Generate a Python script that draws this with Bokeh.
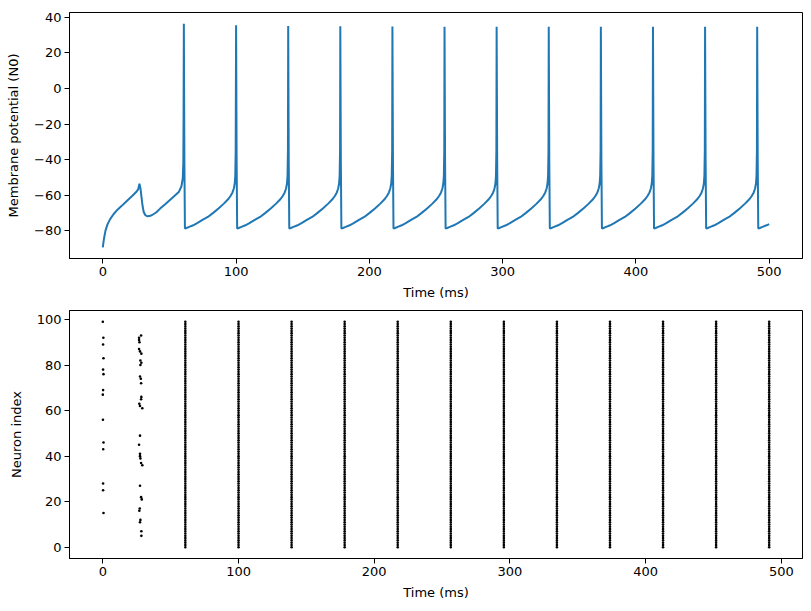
from bokeh.plotting import figure
from bokeh.layouts import column
from bokeh.models import Range1d, FixedTicker
from bokeh.embed import file_html
from bokeh.resources import INLINE

# ---------------- data ----------------
# membrane potential of neuron 0 (time in ms, voltage in mV)
v_time = [
    0, 0.5, 1, 2, 3.5, 5.5, 8, 11, 14, 18, 22, 25, 26.5, 27.5, 28.3, 29, 29.8, 30.7, 31.8, 33.2,
    35, 37, 40, 43, 47, 51, 54.5, 57, 59, 60, 60.4, 60.6,
    60.8, 61.2, 61.6, 62.8, 64.8, 67.8, 70.8, 74.8, 78.8, 82.8, 86.8, 90.8, 93.8, 95.8, 97.3, 98.3, 99.0, 99.4, 99.7,
    100.0, 100.4, 100.8, 102.0, 104.0, 107.0, 110.0, 114.0, 118.0, 122.0, 126.0, 130.0, 133.0, 135.0, 136.5, 137.5, 138.2, 138.6, 138.9,
    139.1, 139.5, 139.9, 141.1, 143.1, 146.1, 149.1, 153.1, 157.1, 161.1, 165.1, 169.1, 172.1, 174.1, 175.6, 176.6, 177.3, 177.7, 178.0,
    178.2, 178.6, 179.0, 180.2, 182.2, 185.2, 188.2, 192.2, 196.2, 200.2, 204.2, 208.2, 211.2, 213.2, 214.7, 215.7, 216.4, 216.8, 217.1,
    217.3, 217.7, 218.1, 219.3, 221.3, 224.3, 227.3, 231.3, 235.3, 239.3, 243.3, 247.3, 250.3, 252.3, 253.8, 254.8, 255.5, 255.9, 256.2,
    256.4, 256.8, 257.2, 258.4, 260.4, 263.4, 266.4, 270.4, 274.4, 278.4, 282.4, 286.4, 289.4, 291.4, 292.9, 293.9, 294.6, 295.0, 295.3,
    295.5, 295.9, 296.3, 297.5, 299.5, 302.5, 305.5, 309.5, 313.5, 317.5, 321.5, 325.5, 328.5, 330.5, 332.0, 333.0, 333.7, 334.1, 334.4,
    334.6, 335.0, 335.4, 336.6, 338.6, 341.6, 344.6, 348.6, 352.6, 356.6, 360.6, 364.6, 367.6, 369.6, 371.1, 372.1, 372.8, 373.2, 373.5,
    373.7, 374.1, 374.5, 375.7, 377.7, 380.7, 383.7, 387.7, 391.7, 395.7, 399.7, 403.7, 406.7, 408.7, 410.2, 411.2, 411.9, 412.3, 412.6,
    412.8, 413.2, 413.6, 414.8, 416.8, 419.8, 422.8, 426.8, 430.8, 434.8, 438.8, 442.8, 445.8, 447.8, 449.3, 450.3, 451.0, 451.4, 451.7,
    451.9, 452.3, 452.7, 453.9, 455.9, 458.9, 461.9, 465.9, 469.9, 473.9, 477.9, 481.9, 484.9, 486.9, 488.4, 489.4, 490.1, 490.5, 490.8,
    491.0, 491.4, 491.8, 493.0, 495.0, 498.0, 500.0,
]
v_mem = [
    -89.4, -86.5, -84.0, -80.0, -76.5, -73.5, -70.8, -68.2, -66.2, -63.3, -60.5, -58.3, -56.8, -53.6, -56.5, -61.0, -66.0, -69.5, -71.2, -71.9,
    -71.8, -71.2, -69.8, -67.6, -65.0, -62.3, -60.0, -58.3, -55.0, -50.5, -42.0, -15.0,
    36.5, -40, -78.8, -78.5, -77.9, -77.0, -75.8, -74.0, -72.3, -70.0, -67.5, -64.8, -62.5, -60.5, -58.5, -56.3, -53.5, -49.0, -35.0,
    35.6, -40, -78.8, -78.5, -77.9, -77.0, -75.8, -74.0, -72.3, -70.0, -67.5, -64.8, -62.5, -60.5, -58.5, -56.3, -53.5, -49.0, -35.0,
    35.2, -40, -78.8, -78.5, -77.9, -77.0, -75.8, -74.0, -72.3, -70.0, -67.5, -64.8, -62.5, -60.5, -58.5, -56.3, -53.5, -49.0, -35.0,
    35.0, -40, -78.8, -78.5, -77.9, -77.0, -75.8, -74.0, -72.3, -70.0, -67.5, -64.8, -62.5, -60.5, -58.5, -56.3, -53.5, -49.0, -35.0,
    34.9, -40, -78.8, -78.5, -77.9, -77.0, -75.8, -74.0, -72.3, -70.0, -67.5, -64.8, -62.5, -60.5, -58.5, -56.3, -53.5, -49.0, -35.0,
    34.8, -40, -78.8, -78.5, -77.9, -77.0, -75.8, -74.0, -72.3, -70.0, -67.5, -64.8, -62.5, -60.5, -58.5, -56.3, -53.5, -49.0, -35.0,
    34.8, -40, -78.8, -78.5, -77.9, -77.0, -75.8, -74.0, -72.3, -70.0, -67.5, -64.8, -62.5, -60.5, -58.5, -56.3, -53.5, -49.0, -35.0,
    34.8, -40, -78.8, -78.5, -77.9, -77.0, -75.8, -74.0, -72.3, -70.0, -67.5, -64.8, -62.5, -60.5, -58.5, -56.3, -53.5, -49.0, -35.0,
    34.8, -40, -78.8, -78.5, -77.9, -77.0, -75.8, -74.0, -72.3, -70.0, -67.5, -64.8, -62.5, -60.5, -58.5, -56.3, -53.5, -49.0, -35.0,
    34.8, -40, -78.8, -78.5, -77.9, -77.0, -75.8, -74.0, -72.3, -70.0, -67.5, -64.8, -62.5, -60.5, -58.5, -56.3, -53.5, -49.0, -35.0,
    34.8, -40, -78.8, -78.5, -77.9, -77.0, -75.8, -74.0, -72.3, -70.0, -67.5, -64.8, -62.5, -60.5, -58.5, -56.3, -53.5, -49.0, -35.0,
    34.8, -40, -78.8, -78.5, -77.9, -77.0, -76.3,
]

# population spike times (ms) at which all 100 neurons fire together
sync_times = [60.8, 100.0, 139.1, 178.2, 217.3, 256.4, 295.5, 334.6, 373.7, 412.8, 451.9, 491.0]
neuron_ids = list(range(100))

# sparse early spikes
early1_times = [0.0, 0.4, 0.2, 0.5, 0.2, 0.5, 0.2, 0.0, 0.1, 0.5, 0.3, 0.2, 0.2, 0.5]
early1_ids = [99, 92, 89, 83, 78, 76, 69, 67, 56, 46, 43, 28, 25, 15]
early2_times = [28.2, 26.7, 26.7, 27.0, 26.7, 27.4, 28.4, 27.7, 28.4, 27.7, 27.4, 28.0, 28.2,
                28.4, 28.2, 26.9, 27.4, 29.1, 27.4, 26.7, 27.4, 27.4, 27.7, 28.2, 29.1,
                27.4, 28.2, 28.7, 27.2, 26.9, 27.7, 27.4, 28.4, 28.4]
early2_ids = [93, 92, 91, 90, 87, 86, 85, 82, 81, 80, 75, 74, 72,
              66, 65, 63, 62, 61, 49, 45, 41, 40, 39, 37, 36,
              27, 22, 21, 17, 16, 12, 11, 7, 5]

x_ticks = [0, 100, 200, 300, 400, 500]
v_ticks = [-80, -60, -40, -20, 0, 20, 40]
n_ticks = [0, 20, 40, 60, 80, 100]

# ---------------- build raster ----------------
r_x, r_y = [], []
for t, n in zip(early1_times, early1_ids):
    r_x.append(t); r_y.append(n)
for t, n in zip(early2_times, early2_ids):
    r_x.append(t); r_y.append(n)
for t in sync_times:
    for n in neuron_ids:
        r_x.append(t); r_y.append(n)


def padded(lo, hi, frac=0.05):
    d = (hi - lo) * frac
    return Range1d(lo - d, hi + d)


FONT = "DejaVu Sans"


def style(p, xt, yt):
    p.grid.visible = False
    p.outline_line_color = "black"
    p.outline_line_width = 1
    for ax in (p.xaxis[0], p.yaxis[0]):
        ax.axis_line_color = "black"
        ax.major_tick_line_color = "black"
        ax.major_tick_out = 5
        ax.major_tick_in = 0
        ax.minor_tick_line_color = None
        ax.major_label_text_font = FONT
        ax.major_label_text_font_size = "13px"
        ax.major_label_text_color = "black"
        ax.axis_label_text_font = FONT
        ax.axis_label_text_font_size = "13px"
        ax.axis_label_text_font_style = "normal"
        ax.axis_label_text_color = "black"
    p.xaxis[0].ticker = FixedTicker(ticks=xt)
    p.yaxis[0].ticker = FixedTicker(ticks=yt)
    p.xaxis[0].major_label_standoff = 3
    p.xaxis[0].axis_label_standoff = 6
    p.yaxis[0].major_label_standoff = 3
    p.yaxis[0].axis_label_standoff = 10
    p.yaxis[0].major_label_overrides = {v: (str(v).replace("-", "\u2212")) for v in yt}


p1 = figure(width=811, height=304, output_backend="svg", toolbar_location=None,
            x_range=padded(min(v_time), max(v_time)),
            y_range=padded(min(v_mem), max(v_mem)),
            min_border_left=69, min_border_right=9, min_border_top=12, min_border_bottom=46)
p1.line(v_time, v_mem, line_color="#1f77b4", line_width=2)
p1.xaxis.axis_label = "Time (ms)"
p1.yaxis.axis_label = "Membrane potential (N0)"
style(p1, x_ticks, v_ticks)

p2 = figure(width=811, height=307, output_backend="svg", toolbar_location=None,
            x_range=padded(min(r_x), max(r_x)),
            y_range=padded(min(r_y), max(r_y)),
            min_border_left=69, min_border_right=9, min_border_top=6, min_border_bottom=53)
p2.scatter(r_x, r_y, size=2.6, fill_color="black", line_color=None)
p2.xaxis.axis_label = "Time (ms)"
p2.yaxis.axis_label = "Neuron index"
style(p2, x_ticks, n_ticks)

layout = column(p1, p2, spacing=0)
open("out.html", "w").write(file_html(layout, INLINE))
